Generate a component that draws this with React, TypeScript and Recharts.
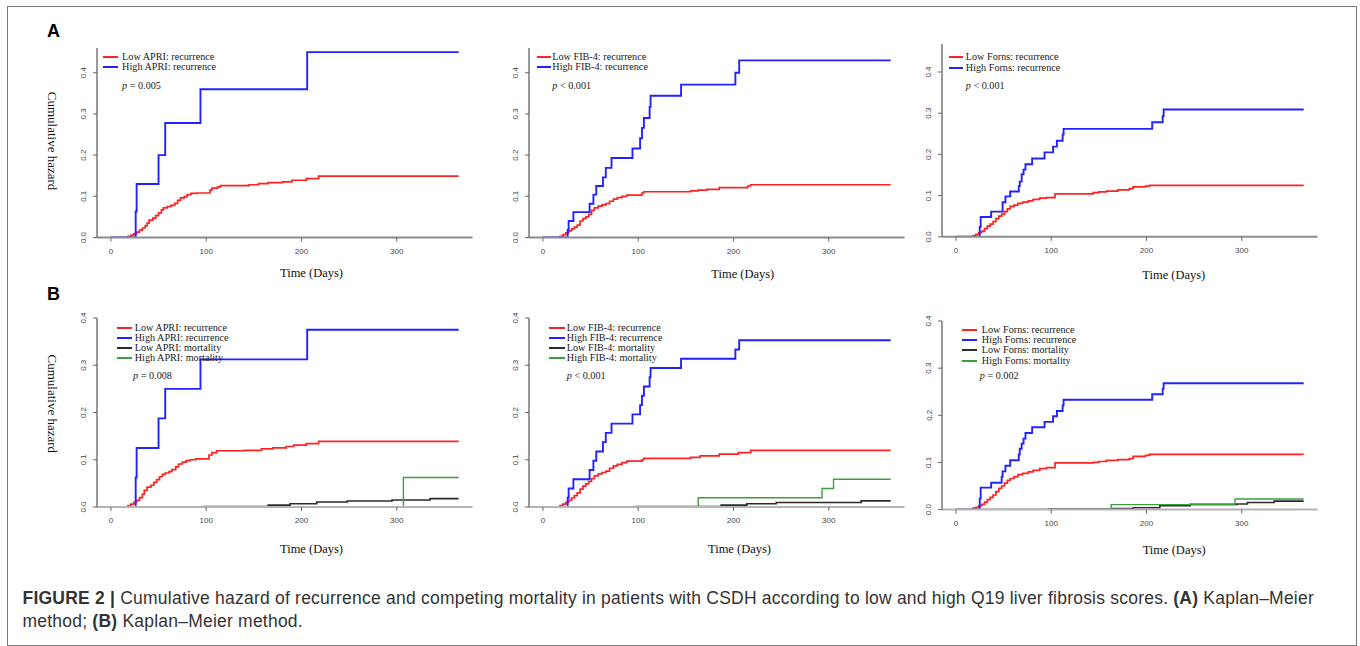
import React from 'react';
import { LineChart, Line, XAxis, YAxis, Legend } from 'recharts';

// ---------- tick labels ----------
const xTicks = [0, 100, 200, 300];
const yTicks = [0, 0.1, 0.2, 0.3, 0.4];
const yTickLabels = ['0.0', '0.1', '0.2', '0.3', '0.4'];

// ---------- A: APRI ----------
const aLowApri = [[0,0],[18,0.003],[21,0.006],[24,0.009],[27,0.013],[30,0.018],[33,0.023],[36,0.028],[38,0.035],[40,0.042],[44,0.047],[47,0.053],[50,0.06],[53,0.067],[55,0.072],[59,0.075],[63,0.078],[67,0.083],[70,0.09],[73,0.096],[77,0.099],[80,0.104],[84,0.107],[90,0.108],[104,0.115],[106,0.12],[112,0.123],[115,0.126],[145,0.128],[155,0.131],[165,0.133],[180,0.135],[190,0.139],[205,0.143],[218,0.149],[365,0.149]];
const aHighApri = [[0,0],[26,0.063],[27,0.13],[50,0.2],[57,0.278],[94,0.36],[206,0.45],[365,0.45]];

// ---------- A: FIB-4 ----------
const aLowFib = [[0,0],[18,0.003],[21,0.007],[24,0.011],[27,0.016],[30,0.021],[33,0.025],[36,0.03],[39,0.04],[42,0.046],[45,0.05],[48,0.056],[51,0.066],[54,0.072],[58,0.076],[62,0.079],[66,0.082],[70,0.088],[74,0.093],[78,0.097],[83,0.1],[88,0.103],[104,0.108],[106,0.111],[155,0.113],[163,0.115],[172,0.117],[185,0.121],[215,0.125],[218,0.128],[365,0.128]];
const aHighFib = [[0,0],[26,0.0186],[27,0.04],[32,0.0615],[49,0.082],[53,0.104],[56,0.125],[63,0.146],[66,0.169],[72,0.193],[94,0.216],[102,0.241],[104,0.266],[106,0.29],[112,0.317],[113,0.344],[145,0.371],[202,0.4],[206,0.43],[365,0.43]];

// ---------- A: Forns ----------
const aLowForns = [[0,0],[18,0.003],[21,0.006],[24,0.01],[27,0.014],[30,0.02],[33,0.026],[36,0.031],[39,0.037],[42,0.044],[45,0.05],[48,0.055],[51,0.061],[54,0.068],[57,0.074],[61,0.077],[65,0.081],[70,0.084],[76,0.087],[81,0.091],[88,0.094],[95,0.095],[104,0.104],[144,0.107],[150,0.109],[158,0.111],[170,0.114],[182,0.117],[186,0.121],[199,0.123],[203,0.125],[365,0.125]];
const aHighForns = [[0,0],[25,0.024],[26,0.048],[37,0.061],[49,0.084],[52,0.098],[57,0.11],[66,0.123],[67,0.134],[69,0.152],[71,0.163],[73,0.176],[80,0.19],[93,0.205],[102,0.219],[106,0.233],[112,0.248],[113,0.262],[206,0.278],[217,0.293],[218,0.309],[365,0.309]];

// ---------- B: APRI ----------
const bLowApri = [[0,0],[18,0.003],[21,0.006],[24,0.01],[27,0.014],[30,0.02],[33,0.027],[35,0.035],[38,0.042],[42,0.046],[45,0.052],[48,0.058],[51,0.064],[54,0.069],[57,0.072],[61,0.075],[64,0.079],[68,0.085],[71,0.091],[75,0.095],[79,0.098],[83,0.1],[89,0.102],[103,0.11],[106,0.115],[111,0.119],[140,0.12],[158,0.123],[170,0.125],[184,0.128],[192,0.131],[205,0.134],[218,0.139],[365,0.139]];
const bHighApri = [[0,0],[26,0.0625],[27,0.125],[50,0.1875],[57,0.25],[94,0.3125],[206,0.375],[365,0.375]];
const bLowApriMort = [[0,0],[97,0.001],[165,0.004],[188,0.007],[216,0.0106],[248,0.0127],[295,0.0148],[335,0.0178],[365,0.0178]];
const bHighApriMort = [[0,0],[307,0.0625],[365,0.0625]];

// ---------- B: FIB-4 ----------
const bLowFib = [[0,0],[18,0.003],[21,0.006],[24,0.01],[27,0.014],[30,0.019],[33,0.024],[36,0.03],[39,0.038],[42,0.044],[45,0.049],[48,0.054],[51,0.06],[54,0.066],[58,0.07],[62,0.073],[66,0.076],[70,0.082],[74,0.087],[78,0.09],[83,0.094],[88,0.097],[104,0.1],[106,0.103],[155,0.105],[165,0.108],[185,0.112],[205,0.115],[218,0.12],[365,0.12]];
const bHighFib = [[0,0],[26,0.0196],[27,0.0392],[32,0.0588],[49,0.0784],[53,0.098],[56,0.1176],[63,0.1373],[66,0.1569],[72,0.1765],[94,0.1961],[102,0.2157],[104,0.2353],[106,0.2549],[112,0.2745],[113,0.2941],[145,0.3137],[202,0.3333],[206,0.3529],[365,0.3529]];
const bLowFibMort = [[0,0],[97,0.001],[187,0.004],[214,0.007],[245,0.0095],[334,0.013],[365,0.013]];
const bHighFibMort = [[0,0],[163,0.0196],[293,0.0392],[305,0.0588],[365,0.0588]];

// ---------- B: Forns ----------
const bLowForns = [[0,0],[18,0.003],[21,0.005],[24,0.008],[27,0.011],[30,0.016],[33,0.021],[36,0.026],[39,0.031],[42,0.038],[45,0.045],[48,0.05],[51,0.056],[54,0.062],[57,0.066],[61,0.07],[65,0.074],[70,0.077],[76,0.08],[81,0.083],[88,0.087],[95,0.089],[104,0.099],[144,0.1],[150,0.102],[158,0.1045],[170,0.106],[182,0.108],[186,0.113],[199,0.115],[203,0.117],[365,0.117]];
const bHighForns = [[0,0],[25,0.0233],[26,0.0467],[37,0.057],[48,0.07],[49,0.081],[52,0.093],[57,0.1045],[66,0.117],[67,0.129],[69,0.14],[71,0.1505],[73,0.1625],[80,0.1745],[93,0.186],[102,0.198],[106,0.209],[112,0.221],[113,0.233],[206,0.2445],[217,0.2565],[218,0.268],[365,0.268]];
const bLowFornsMort = [[0,0],[97,0.001],[163,0.002],[186,0.004],[214,0.008],[246,0.011],[295,0.012],[306,0.015],[334,0.018],[365,0.018]];
const bHighFornsMort = [[0,0],[163,0.0106],[293,0.0225],[365,0.0225]];

// ---------- styling ----------
const SERIF = '"Liberation Serif", "DejaVu Serif", serif';
const SANS = '"Liberation Sans", Arial, sans-serif';
const RED = '#ff2222';
const BLUE = '#2222ff';
const BLACK = '#2b2b2b';
const GREEN = '#3d9e3d';

const toPts = (arr: number[][]) => arr.map(([t, h]) => ({ t, h }));

const PLOT_W = 375.6;
const X_DOMAIN = [-14.6, 379.6];

type Series = { name: string; data: number[][]; color: string; width: number };
type LegendCfg = { sx: number; len: number; tx: number; rows: number[]; px: number; py: number };
type PanelCfg = {
  key: string; left: number; top: number; h: number; ymax: number;
  series: Series[]; p: string; legend: LegendCfg;
  yTitle: boolean; yTitleDy: number; xTitleDx: number; xTitleDy: number; xAxisColor: string;
};

const panels: PanelCfg[] = [
  {
    key: 'a1', left: 97.1, top: 47.5, h: 189.5, ymax: 0.46,
    series: [
      { name: 'Low APRI: recurrence', data: aLowApri, color: RED, width: 1.7 },
      { name: 'High APRI: recurrence', data: aHighApri, color: BLUE, width: 1.9 },
    ],
    p: '= 0.005', legend: { sx: 6, len: 15, tx: 25, rows: [9.8, 19.8], px: 25, py: 38.5 },
    yTitle: true, yTitleDy: -1.7, xTitleDx: 26.7, xTitleDy: 36, xAxisColor: '#8c8c8c',
  },
  {
    key: 'a2', left: 528.8, top: 47.5, h: 189.5, ymax: 0.46,
    series: [
      { name: 'Low FIB-4: recurrence', data: aLowFib, color: RED, width: 1.7 },
      { name: 'High FIB-4: recurrence', data: aHighFib, color: BLUE, width: 1.9 },
    ],
    p: '< 0.001', legend: { sx: 8, len: 14, tx: 23.5, rows: [9.8, 19.8], px: 23.5, py: 38.5 },
    yTitle: false, yTitleDy: 0, xTitleDx: 26, xTitleDy: 37, xAxisColor: '#8c8c8c',
  },
  {
    key: 'a3', left: 941.8, top: 44.2, h: 192.8, ymax: 0.468,
    series: [
      { name: 'Low Forns: recurrence', data: aLowForns, color: RED, width: 1.7 },
      { name: 'High Forns: recurrence', data: aHighForns, color: BLUE, width: 1.9 },
    ],
    p: '< 0.001', legend: { sx: 7, len: 14, tx: 24, rows: [13, 23.5], px: 24, py: 41.8 },
    yTitle: false, yTitleDy: 0, xTitleDx: 44, xTitleDy: 38, xAxisColor: '#8c8c8c',
  },
  {
    key: 'b1', left: 97.1, top: 317.7, h: 189, ymax: 0.4,
    series: [
      { name: 'Low APRI: recurrence', data: bLowApri, color: RED, width: 1.7 },
      { name: 'High APRI: recurrence', data: bHighApri, color: BLUE, width: 1.9 },
      { name: 'Low APRI: mortality', data: bLowApriMort, color: BLACK, width: 1.6 },
      { name: 'High APRI: mortality', data: bHighApriMort, color: GREEN, width: 1.4 },
    ],
    p: '= 0.008', legend: { sx: 20, len: 15, tx: 37.6, rows: [10, 20.6, 30.6, 40], px: 36, py: 58 },
    yTitle: true, yTitleDy: -8.7, xTitleDx: 26.7, xTitleDy: 42, xAxisColor: '#b5b5b5',
  },
  {
    key: 'b2', left: 528.8, top: 317.7, h: 189, ymax: 0.4,
    series: [
      { name: 'Low FIB-4: recurrence', data: bLowFib, color: RED, width: 1.7 },
      { name: 'High FIB-4: recurrence', data: bHighFib, color: BLUE, width: 1.9 },
      { name: 'Low FIB-4: mortality', data: bLowFibMort, color: BLACK, width: 1.6 },
      { name: 'High FIB-4: mortality', data: bHighFibMort, color: GREEN, width: 1.4 },
    ],
    p: '< 0.001', legend: { sx: 20, len: 16, tx: 38, rows: [10, 20.5, 30.5, 40.3], px: 38, py: 58 },
    yTitle: false, yTitleDy: 0, xTitleDx: 22.7, xTitleDy: 42, xAxisColor: '#b5b5b5',
  },
  {
    key: 'b3', left: 941.8, top: 320.7, h: 188.6, ymax: 0.4,
    series: [
      { name: 'Low Forns: recurrence', data: bLowForns, color: RED, width: 1.7 },
      { name: 'High Forns: recurrence', data: bHighForns, color: BLUE, width: 1.9 },
      { name: 'Low Forns: mortality', data: bLowFornsMort, color: BLACK, width: 1.6 },
      { name: 'High Forns: mortality', data: bHighFornsMort, color: GREEN, width: 1.4 },
    ],
    p: '= 0.002', legend: { sx: 20, len: 15, tx: 40, rows: [9.3, 19.3, 29.3, 40], px: 38, py: 55 },
    yTitle: false, yTitleDy: 0, xTitleDx: 44.4, xTitleDy: 40, xAxisColor: '#b5b5b5',
  },
];

const XTick = (props: any) => {
  const { x, y, payload } = props;
  return (
    <text x={x} y={y + 10} textAnchor="middle" dominantBaseline="central" fontSize={8} fill="#444" fontFamily={SANS}>
      {payload.value}
    </text>
  );
};

const YTick = (props: any) => {
  const { x, y, payload } = props;
  const idx = yTicks.indexOf(payload.value);
  const cx = x - 9;
  return (
    <text x={cx} y={y} transform={`rotate(-90 ${cx} ${y})`} textAnchor="middle" dominantBaseline="central" fontSize={8} fill="#444" fontFamily={SANS}>
      {idx >= 0 ? yTickLabels[idx] : payload.value}
    </text>
  );
};

const M_LEFT = 60;
const M_TOP = 20;

const Panel = ({ cfg }: { cfg: PanelCfg }) => {
  const W = PLOT_W + 80;
  const H = cfg.h + 80;
  const lg = cfg.legend;
  const legendContent = () => (
    <div style={{ position: 'relative', width: 240, height: 70, fontFamily: SERIF, fontSize: 10.2, color: '#1a1a1a' }}>
      {cfg.series.map((s, i) => (
        <React.Fragment key={s.name}>
          <div style={{ position: 'absolute', left: 0, top: lg.rows[i] - 0.9, width: lg.len, height: 1.8, background: s.color }} />
          <div style={{ position: 'absolute', left: lg.tx - lg.sx, top: lg.rows[i] - 7, height: 14, lineHeight: '14px', whiteSpace: 'nowrap' }}>{s.name}</div>
        </React.Fragment>
      ))}
      <div style={{ position: 'absolute', left: lg.px - lg.sx, top: lg.py - 7, height: 14, lineHeight: '14px', whiteSpace: 'nowrap' }}>
        <i>p</i> {cfg.p}
      </div>
    </div>
  );
  return (
    <div style={{ position: 'absolute', left: cfg.left - M_LEFT, top: cfg.top - M_TOP }}>
      <LineChart width={W} height={H} margin={{ top: M_TOP, right: 20, bottom: 0, left: 0 }}>
        <XAxis
          dataKey="t" type="number" domain={X_DOMAIN} allowDataOverflow ticks={xTicks} interval={0}
          height={60} tickSize={4} tickMargin={0}
          axisLine={{ stroke: cfg.xAxisColor, strokeWidth: 2 }} tickLine={{ stroke: '#666' }}
          tick={<XTick />}
          label={{
            content: (p: any) => {
              const vb = p.viewBox || { x: 0, y: 0, width: 0 };
              return (
                <text x={vb.x + vb.width / 2 + cfg.xTitleDx} y={vb.y + cfg.xTitleDy} textAnchor="middle" dominantBaseline="central" fontFamily={SERIF} fontSize={12.5} fill="#111">
                  Time (Days)
                </text>
              );
            },
          }}
        />
        <YAxis
          type="number" domain={[0, cfg.ymax]} allowDataOverflow ticks={yTicks} interval={0}
          width={60} tickSize={4} tickMargin={0}
          axisLine={{ stroke: '#555', strokeWidth: 1.2 }} tickLine={{ stroke: '#666' }}
          tick={<YTick />}
          label={cfg.yTitle ? {
            content: (p: any) => {
              const vb = p.viewBox || { x: 0, y: 0, width: 0, height: 0 };
              const cx = vb.x + vb.width - 45;
              const cy = vb.y + vb.height / 2 + cfg.yTitleDy;
              return (
                <text x={cx} y={cy} transform={`rotate(90 ${cx} ${cy})`} textAnchor="middle" dominantBaseline="central" fontFamily={SERIF} fontSize={13} fill="#111">
                  Cumulative hazard
                </text>
              );
            },
          } : undefined}
        />
        {cfg.series.map((s) => (
          <Line
            key={s.name} name={s.name} data={toPts(s.data)} dataKey="h" type="stepAfter"
            stroke={s.color} strokeWidth={s.width} dot={false} activeDot={false} isAnimationActive={false}
          />
        ))}
        <Legend
          layout="vertical" align="center" verticalAlign="middle"
          wrapperStyle={{ left: M_LEFT + lg.sx, top: M_TOP, width: 240, height: 70 }}
          content={legendContent}
        />
      </LineChart>
    </div>
  );
};

const captionLine1Rest = ' Cumulative hazard of recurrence and competing mortality in patients with CSDH according to low and high Q19 liver fibrosis scores. ';
const captionStyle: React.CSSProperties = {
  position: 'absolute', left: 22.5, fontFamily: SANS, fontSize: 17.5, lineHeight: '20px',
  letterSpacing: 0.22, color: '#333', whiteSpace: 'nowrap',
};

export default function App() {
  return (
    <div style={{ position: 'absolute', left: 0, top: 0, width: 1360, height: 646, background: '#fff', overflow: 'hidden' }}>
      <div style={{ position: 'absolute', left: 7, top: 5.5, width: 1350, height: 640, border: '1.3px solid #777', boxSizing: 'border-box' }} />
      <div style={{ position: 'absolute', left: 47, top: 20, fontFamily: SANS, fontWeight: 700, fontSize: 18, lineHeight: '22px' }}>A</div>
      <div style={{ position: 'absolute', left: 47, top: 283, fontFamily: SANS, fontWeight: 700, fontSize: 18, lineHeight: '22px' }}>B</div>
      {panels.map((p) => <Panel key={p.key} cfg={p} />)}
      <div style={{ ...captionStyle, top: 588 }}>
        <b>FIGURE 2 |</b>{captionLine1Rest}<b>(A)</b> Kaplan–Meier
      </div>
      <div style={{ ...captionStyle, top: 611 }}>
        method; <b>(B)</b> Kaplan–Meier method.
      </div>
    </div>
  );
}
